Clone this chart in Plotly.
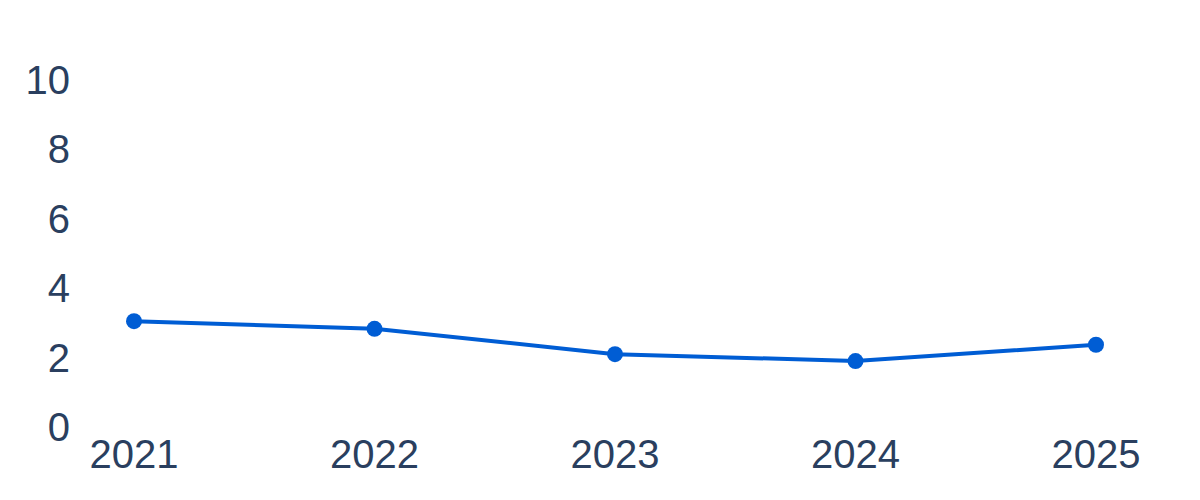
import plotly.graph_objects as go

# 年份和数值
years = [2021, 2022, 2023, 2024, 2025]
values = [3.05, 2.83, 2.1, 1.9, 2.37]
y_ticks = [0, 2, 4, 6, 8, 10]


def draw_picture():
    trace = go.Scatter(
        x=years,
        y=values,
        mode="lines+markers",
        line=dict(color="#005dd4", width=4),
        marker=dict(color="#005dd4", size=16),
        showlegend=False)
    layout = go.Layout(
        width=1200,
        height=500,
        paper_bgcolor="white",
        plot_bgcolor="white",
        margin=dict(l=63, r=49, t=72, b=81),
        font=dict(family="Liberation Sans, Arial, sans-serif", size=40, color="#2a3f5f"),
        xaxis=dict(range=[2020.738, 2025.262], tickvals=years, showgrid=False,
                   zeroline=False, showline=False, automargin=False),
        yaxis=dict(range=[0, 10], tickvals=y_ticks, showgrid=False,
                   zeroline=False, showline=False, automargin=False),
    )
    fig = go.Figure(data=[trace], layout=layout)
    fig.write_html("out.html")


if __name__ == "__main__":
    draw_picture()
